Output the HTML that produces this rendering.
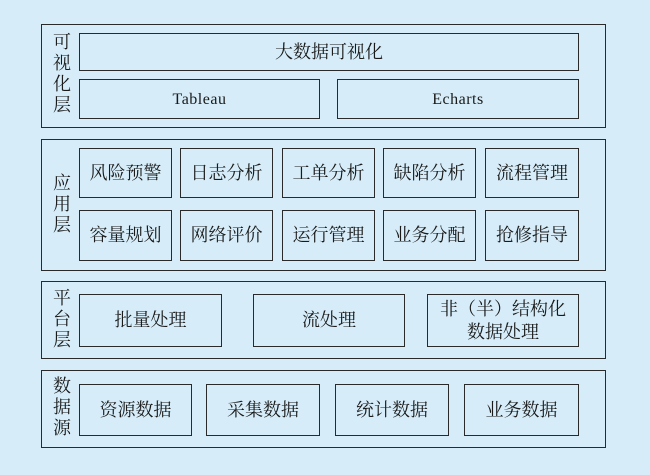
<!DOCTYPE html>
<html><head><meta charset="utf-8"><style>
body{margin:0;width:650px;height:475px;background:#d6edf9;position:relative;overflow:hidden;font-family:"Liberation Serif","Noto Serif CJK SC",serif;color:#1a1a1a}
.o{position:absolute;border:1.5px solid #2a2a2a;box-sizing:border-box}
.b{position:absolute;border:1.5px solid #2a2a2a;box-sizing:border-box;display:flex;align-items:center;justify-content:center;text-align:center;font-size:18px;line-height:23px}
.l{position:absolute;width:22px;font-size:18px;line-height:21px;text-align:center}
.e{font-size:16px;letter-spacing:0.5px}
</style></head><body>
<div class="o" style="left:41px;top:24px;width:565px;height:104px"></div>
<div class="l" style="left:51px;top:32px">可视化层</div>
<div class="b" style="left:79px;top:33px;width:500px;height:38px">大数据可视化</div>
<div class="b e" style="left:79px;top:79px;width:241px;height:40px">Tableau</div>
<div class="b e" style="left:337px;top:79px;width:242px;height:40px">Echarts</div>

<div class="o" style="left:41px;top:139px;width:565px;height:132px"></div>
<div class="l" style="left:51px;top:173px">应用层</div>
<div class="b" style="left:79px;top:148px;width:93px;height:50px">风险预警</div>
<div class="b" style="left:180px;top:148px;width:93px;height:50px">日志分析</div>
<div class="b" style="left:282px;top:148px;width:93px;height:50px">工单分析</div>
<div class="b" style="left:383px;top:148px;width:93px;height:50px">缺陷分析</div>
<div class="b" style="left:485px;top:148px;width:94px;height:50px">流程管理</div>
<div class="b" style="left:79px;top:210px;width:93px;height:51px">容量规划</div>
<div class="b" style="left:180px;top:210px;width:93px;height:51px">网络评价</div>
<div class="b" style="left:282px;top:210px;width:93px;height:51px">运行管理</div>
<div class="b" style="left:383px;top:210px;width:93px;height:51px">业务分配</div>
<div class="b" style="left:485px;top:210px;width:94px;height:51px">抢修指导</div>

<div class="o" style="left:41px;top:281px;width:565px;height:78px"></div>
<div class="l" style="left:51px;top:288px">平台层</div>
<div class="b" style="left:79px;top:294px;width:143px;height:53px">批量处理</div>
<div class="b" style="left:253px;top:294px;width:152px;height:53px">流处理</div>
<div class="b" style="left:427px;top:294px;width:152px;height:53px">非（半）结构化<br>数据处理</div>

<div class="o" style="left:41px;top:370px;width:565px;height:78px"></div>
<div class="l" style="left:51px;top:376px">数据源</div>
<div class="b" style="left:79px;top:384px;width:113px;height:52px">资源数据</div>
<div class="b" style="left:206px;top:384px;width:114px;height:52px">采集数据</div>
<div class="b" style="left:335px;top:384px;width:114px;height:52px">统计数据</div>
<div class="b" style="left:464px;top:384px;width:115px;height:52px">业务数据</div>
</body></html>
